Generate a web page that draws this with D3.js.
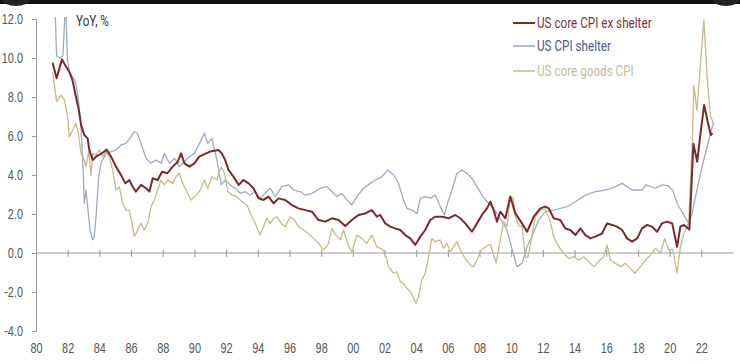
<!DOCTYPE html>
<html><head><meta charset="utf-8">
<script src="https://cdn.jsdelivr.net/npm/d3@7"></script>
<style>
html,body{margin:0;padding:0;background:#fff;}
svg{display:block;font-family:Roboto,'Liberation Sans',sans-serif;}
</style></head>
<body>
<svg id="chart" width="740" height="364"></svg>
<script>
// ---------- DATA ----------
const xTickYears = [1980,1982,1984,1986,1988,1990,1992,1994,1996,1998,2000,2002,2004,2006,2008,2010,2012,2014,2016,2018,2020,2022];
const yTickValues = [-4,-2,0,2,4,6,8,10,12];
const seriesNames = ["US core CPI ex shelter","US CPI shelter","US core goods CPI"];

const exShelterYears = [1981.05,1981.3,1981.64,1981.9,1982.1,1982.3,1982.5,1982.7,1982.85,1983.05,1983.26,1983.37,1983.58,1983.79,1984.1,1984.46,1984.74,1985.05,1985.37,1985.64,1985.9,1986.1,1986.3,1986.63,1986.95,1987.16,1987.37,1987.68,1987.96,1988.3,1988.63,1988.95,1989.16,1989.37,1989.68,1990.0,1990.3,1990.74,1991.0,1991.52,1991.73,1991.94,1992.15,1992.47,1992.79,1993.1,1993.42,1993.73,1994.05,1994.36,1994.68,1995.0,1995.31,1995.73,1996.15,1996.57,1997.0,1997.42,1997.84,1998.26,1998.68,1999.1,1999.52,1999.94,2000.36,2000.78,2001.2,2001.52,2001.73,2002.05,2002.36,2002.68,2003.0,2003.31,2003.63,2003.94,2004.26,2004.57,2004.89,2005.2,2005.63,2006.05,2006.47,2006.78,2007.1,2007.52,2007.84,2008.15,2008.47,2008.68,2008.89,2009.1,2009.31,2009.63,2009.94,2010.26,2010.68,2011.0,2011.42,2011.84,2012.15,2012.37,2012.68,2013.1,2013.42,2013.73,2014.05,2014.37,2014.68,2015.0,2015.31,2015.73,2016.05,2016.37,2016.68,2017.0,2017.31,2017.63,2017.95,2018.26,2018.58,2018.89,2019.21,2019.52,2019.84,2020.16,2020.32,2020.47,2020.68,2020.9,2021.25,2021.5,2021.74,2021.95,2022.18,2022.4,2022.6,2022.7];
const exShelterVals = [9.76,8.96,9.93,9.55,9.3,8.87,8.1,7.33,6.56,6.05,5.88,5.28,4.77,4.94,5.08,5.3,4.94,4.43,4.0,3.57,3.74,3.4,3.15,3.49,3.32,3.15,3.83,3.74,4.17,4.09,4.43,4.68,5.11,4.6,4.43,4.6,4.94,5.11,5.2,5.28,5.11,4.77,4.26,3.91,3.49,3.74,3.57,3.32,2.8,2.72,2.89,2.55,2.8,2.72,2.46,2.29,2.2,2.12,1.69,1.61,1.78,1.69,1.38,1.69,1.95,2.03,2.2,1.86,1.95,1.52,1.35,1.26,1.18,0.92,0.75,0.41,0.84,1.18,1.69,1.86,1.86,1.78,1.95,1.78,1.52,1.09,1.52,1.95,2.29,2.63,2.2,1.6,2.12,1.78,2.9,2.03,1.52,1.09,1.86,2.29,2.38,2.29,1.78,1.69,1.26,1.18,0.92,1.26,0.92,0.75,0.84,1.0,1.52,1.44,1.35,1.18,0.75,0.58,0.75,1.26,1.44,1.35,1.09,1.52,1.61,1.52,0.9,0.32,1.35,1.44,1.2,5.6,4.68,6.14,7.59,6.74,6.05,6.15];

const shelterYears = [1981.0,1981.17,1981.3,1981.5,1981.7,1981.87,1981.98,1982.1,1982.3,1982.45,1982.63,1982.74,1982.84,1982.95,1983.05,1983.16,1983.26,1983.41,1983.58,1983.68,1983.79,1983.96,1984.1,1984.42,1984.74,1985.05,1985.37,1985.68,1986.0,1986.2,1986.4,1986.63,1986.95,1987.26,1987.58,1987.89,1988.1,1988.42,1988.74,1989.05,1989.37,1989.68,1990.0,1990.32,1990.63,1990.84,1991.1,1991.42,1991.69,1991.94,1992.26,1992.57,1992.89,1993.2,1993.52,1993.84,1994.15,1994.47,1994.79,1995.1,1995.52,1995.94,1996.26,1996.68,1997.0,1997.42,1997.94,1998.36,1998.68,1999.0,1999.31,1999.63,1999.94,2000.26,2000.68,2001.1,2001.42,2001.84,2002.2,2002.57,2002.89,2003.2,2003.42,2003.73,2004.05,2004.26,2004.57,2004.89,2005.2,2005.52,2005.78,2006.0,2006.26,2006.57,2006.89,2007.2,2007.52,2007.84,2008.15,2008.47,2008.78,2009.1,2009.42,2009.73,2010.05,2010.36,2010.68,2011.0,2011.31,2011.73,2012.15,2012.68,2013.1,2013.52,2014.05,2014.68,2015.31,2015.95,2016.58,2017.0,2017.63,2018.26,2018.5,2019.1,2019.52,2019.9,2020.2,2020.5,2020.9,2021.2,2021.42,2021.74,2022.05,2022.37,2022.58,2022.77];
const shelterVals = [14,13.5,10.1,10.0,10.1,13,10.0,9.3,9.04,8.87,8.19,7.33,6.48,4.77,2.55,3.23,2.38,1.18,0.67,0.84,1.86,3.91,4.6,5.11,5.2,5.28,5.54,5.62,5.97,6.22,6.14,5.62,4.85,4.6,4.77,4.6,5.11,4.6,4.85,4.43,4.68,4.94,5.11,5.62,6.14,5.62,5.88,4.77,3.49,3.74,3.49,3.32,3.06,3.15,2.97,3.15,2.8,3.06,3.32,2.89,3.4,3.49,3.23,3.15,2.97,3.06,3.32,3.4,3.15,2.89,3.06,2.72,2.46,2.89,3.32,3.57,3.74,3.91,4.26,4.0,3.57,2.72,2.29,2.2,2.03,2.8,2.89,2.8,2.97,2.38,1.95,2.6,3.23,4.09,4.26,4.09,3.83,3.4,2.97,2.63,2.38,2.03,1.61,1.18,0.2,-0.7,-0.53,0.32,0.84,1.69,2.12,2.2,2.29,2.38,2.63,2.97,3.15,3.23,3.4,3.57,3.23,3.23,3.49,3.32,3.49,3.45,3.2,2.5,1.95,1.52,2.03,3.3,4.43,5.45,6.14,6.7];

const coreGoodsYears = [1981.05,1981.3,1981.58,1981.79,1982.0,1982.1,1982.32,1982.53,1982.69,1982.84,1983.05,1983.16,1983.33,1983.47,1983.58,1983.79,1984.0,1984.21,1984.42,1984.63,1984.84,1985.05,1985.26,1985.47,1985.68,1985.89,1986.06,1986.21,1986.42,1986.63,1986.84,1987.05,1987.26,1987.47,1987.68,1987.89,1988.1,1988.32,1988.63,1988.84,1989.05,1989.26,1989.47,1989.79,1990.0,1990.32,1990.63,1990.84,1991.1,1991.42,1991.69,1991.9,1992.11,1992.36,1992.68,1993.0,1993.31,1993.63,1993.84,1994.15,1994.36,1994.57,1994.79,1995.0,1995.21,1995.48,1995.73,1996.05,1996.32,1996.57,1996.89,1997.2,1997.52,1997.84,1998.15,1998.47,1998.68,1998.93,1999.21,1999.42,1999.69,1999.94,2000.26,2000.57,2000.89,2001.2,2001.52,2001.73,2002.0,2002.26,2002.57,2002.78,2003.0,2003.2,2003.42,2003.63,2003.84,2003.98,2004.15,2004.36,2004.57,2004.78,2004.99,2005.2,2005.52,2005.73,2005.94,2006.15,2006.36,2006.57,2006.89,2007.1,2007.42,2007.63,2007.84,2008.05,2008.36,2008.68,2008.89,2009.05,2009.31,2009.52,2009.73,2009.94,2010.1,2010.26,2010.47,2010.68,2010.89,2011.06,2011.31,2011.52,2011.84,2012.15,2012.47,2012.68,2013.0,2013.31,2013.63,2013.95,2014.26,2014.58,2014.89,2015.21,2015.52,2015.84,2016.05,2016.26,2016.58,2016.89,2017.21,2017.52,2017.8,2018.16,2018.47,2018.79,2019.1,2019.42,2019.69,2019.95,2020.2,2020.47,2020.68,2020.89,2021.2,2021.42,2021.53,2021.72,2022.16,2022.37,2022.58,2022.77];
const coreGoodsVals = [9.3,7.76,8.1,7.85,6.99,5.97,6.31,6.65,6.05,5.11,4.77,4.43,5.28,4.0,5.11,5.03,5.28,4.94,5.2,4.94,4.26,3.23,3.4,2.55,2.2,2.2,1.52,0.84,1.18,1.52,1.18,1.52,2.38,2.72,3.23,3.74,3.49,3.74,3.57,3.91,4.09,3.57,3.23,2.72,2.89,3.15,3.74,3.3,3.91,3.74,4.43,4.09,3.15,2.97,2.89,2.63,2.46,1.86,1.52,0.92,1.35,1.78,1.52,1.78,1.86,1.52,1.35,1.86,1.69,1.35,1.18,1.0,0.75,0.5,0.15,0.5,1.26,0.92,0.67,1.18,0.41,0.07,0.92,0.75,0.5,0.92,0.32,0.24,0.07,-0.7,-1.04,-0.96,-1.47,-1.56,-1.81,-1.98,-2.32,-2.58,-2.24,-1.38,-1.04,-0.19,0.75,0.58,0.67,0.24,0.5,0.07,0.32,0.58,-0.02,-0.27,-0.62,-0.7,-0.36,0.07,0.32,0.45,-0.1,-0.5,0.67,1.61,1.35,2.8,2.85,1.9,1.4,1.35,-0.25,-0.2,0.84,1.86,2.2,2.25,1.6,0.84,0.32,-0.02,-0.27,-0.19,-0.36,-0.19,-0.44,-0.7,-0.44,-0.19,0.41,-0.36,-0.53,-0.7,-0.53,-0.79,-1.04,-0.7,-0.36,-0.1,0.24,0.0,0.75,0.15,0.2,-1.04,0.32,1.0,1.52,5.5,8.6,7.3,11.95,9.0,7.0,6.65];

// ---------- STYLE ----------
const W = 740, H = 364;
const SX = 0.78; // horizontal condensing of text
const colors = ["#7a2a2c","#9dabc3","#c9b98a"];
const legendTextColors = ["#7a3437","#4d5c88","#c4bb9c"];
const widths = [2.0,1.3,1.3];

const svg = d3.select("#chart");
const x = d3.scaleLinear().domain([1980, 2024]).range([36, 733]);
const y = d3.scaleLinear().domain([-4, 12]).range([331, 19]);

// screenshot top strip
svg.append("rect").attr("x",0).attr("y",0).attr("width",W).attr("height",4).attr("fill","#111");
svg.append("ellipse").attr("cx",16).attr("cy",0).attr("rx",13).attr("ry",6).attr("fill","#222");
svg.append("ellipse").attr("cx",726).attr("cy",0).attr("rx",13).attr("ry",6).attr("fill","#222");

const axisColor = "#9a9a9a";
const labelColor = "#555";

// Y axis
const yAxis = svg.append("g").attr("transform","translate(36,0)")
  .call(d3.axisLeft(y).tickValues(yTickValues).tickFormat(d => d.toFixed(1)).tickSize(4).tickPadding(9));
yAxis.selectAll("path,line").attr("stroke",axisColor);
yAxis.selectAll("text").attr("fill",labelColor).attr("font-size",14).style("font-family","inherit")
  .attr("x",0).attr("transform",`translate(-13,0) scale(${SX},1)`);

// zero line with ticks
const zAxis = svg.append("g").attr("transform",`translate(0,${y(0)})`)
  .call(d3.axisBottom(x).tickValues(xTickYears.filter(d=>d>1980)).tickFormat("").tickSize(4).tickSizeOuter(0));
zAxis.select(".domain").attr("d",`M36,0H733`).attr("stroke",axisColor);
zAxis.selectAll(".tick line").attr("y1",-3).attr("y2",4).attr("stroke",axisColor);

// bottom labels
const bAxis = svg.append("g").attr("transform","translate(0,331)")
  .call(d3.axisBottom(x).tickValues(xTickYears).tickFormat(d => String(d % 100).padStart(2,"0")).tickSize(0).tickPadding(12));
bAxis.select(".domain").remove();
bAxis.selectAll("text").attr("fill",labelColor).attr("font-size",14).style("font-family","inherit")
  .attr("transform",`scale(${SX},1)`);

// clip
svg.append("clipPath").attr("id","clip").append("rect").attr("x",36).attr("y",17).attr("width",704).attr("height",320);

const series = [
  {years: exShelterYears, vals: exShelterVals},
  {years: shelterYears, vals: shelterVals},
  {years: coreGoodsYears, vals: coreGoodsVals}
];
const line = d3.line().x(d => x(d[0])).y(d => y(d[1]));
const drawOrder = [1,2,0];
const lg = svg.append("g").attr("clip-path","url(#clip)");
drawOrder.forEach(i => {
  const s = series[i];
  const pts = s.years.map((yr,k) => [yr, s.vals[k]]);
  lg.append("path").datum(pts).attr("d",line).attr("fill","none")
    .attr("stroke",colors[i]).attr("stroke-width",widths[i]).attr("stroke-linejoin","round");
});

// YoY label
svg.append("text").attr("transform",`translate(76,26) scale(${SX},1)`).attr("font-size",15).attr("fill","#333").text("YoY, %");

// legend
const legendY = [23,46,71];
seriesNames.forEach((n,i) => {
  svg.append("line").attr("x1",513).attr("x2",535).attr("y1",legendY[i]).attr("y2",legendY[i])
    .attr("stroke",colors[i]).attr("stroke-width",i===0?2:1.5);
  svg.append("text").attr("transform",`translate(537,${legendY[i]+5}) scale(${SX},1)`).attr("font-size",15)
    .attr("fill",legendTextColors[i]).text(n);
});
</script>
</body></html>
